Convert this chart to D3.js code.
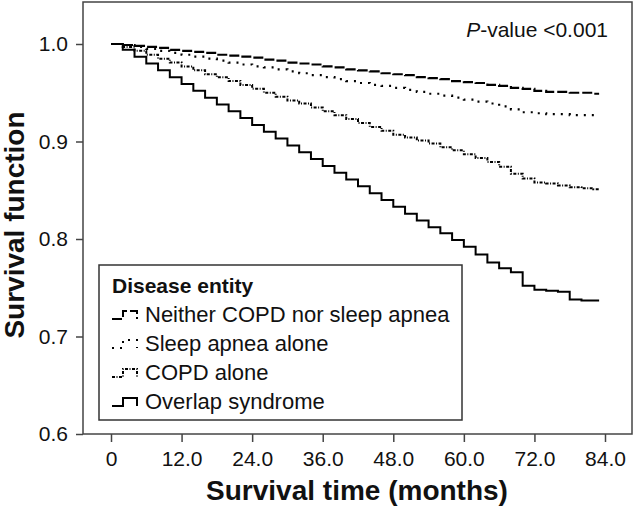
<!DOCTYPE html>
<html><head><meta charset="utf-8">
<script src="https://cdn.jsdelivr.net/npm/d3@7"></script>
<style>
html,body{margin:0;padding:0;background:#fff;}
svg{display:block;font-family:"Liberation Sans",Arial,sans-serif;}
</style></head>
<body><svg id="chart" width="634" height="511"></svg>
<script>
const months = [0,2,4,6,8,10,12,14,16,18,20,22,24,26,28,30,32,34,36,38,40,42,44,46,48,50,52,54,56,58,60,62,64,66,68,70,72,74,76,78,80,82,83];
const neitherVals = [1.000,0.999,0.998,0.997,0.996,0.994,0.993,0.992,0.991,0.989,0.988,0.987,0.986,0.984,0.983,0.981,0.980,0.979,0.977,0.976,0.974,0.973,0.972,0.970,0.969,0.968,0.966,0.965,0.964,0.962,0.961,0.960,0.958,0.957,0.955,0.954,0.952,0.951,0.951,0.950,0.950,0.949,0.949];
const sleepVals = [1.000,0.999,0.997,0.995,0.993,0.991,0.989,0.987,0.985,0.983,0.981,0.979,0.977,0.976,0.974,0.972,0.970,0.968,0.966,0.964,0.962,0.960,0.958,0.957,0.955,0.953,0.951,0.949,0.947,0.945,0.943,0.941,0.939,0.936,0.933,0.930,0.929,0.928,0.928,0.927,0.927,0.927,0.927];
const copdVals = [1.000,0.997,0.993,0.989,0.985,0.981,0.977,0.973,0.969,0.966,0.962,0.958,0.954,0.950,0.946,0.942,0.939,0.935,0.931,0.927,0.923,0.919,0.915,0.911,0.907,0.904,0.901,0.898,0.894,0.891,0.887,0.883,0.879,0.874,0.867,0.862,0.858,0.857,0.855,0.853,0.852,0.851,0.851];
const overlapVals = [1.000,0.994,0.987,0.980,0.973,0.966,0.959,0.952,0.945,0.938,0.931,0.924,0.917,0.910,0.903,0.896,0.889,0.882,0.875,0.868,0.861,0.854,0.847,0.840,0.833,0.826,0.819,0.812,0.806,0.799,0.792,0.784,0.776,0.770,0.766,0.752,0.748,0.747,0.746,0.738,0.737,0.737,0.737];
const seriesNames = ["Neither COPD nor sleep apnea","Sleep apnea alone","COPD alone","Overlap syndrome"];
const xTicks = [0,12,24,36,48,60,72,84];
const yTicks = [0.6,0.7,0.8,0.9,1.0];

const dashes = ["10,3","2,6","3,1.5,1,1.5",null];
const widths = [2.2,2.2,2,2];
const allVals = [neitherVals, sleepVals, copdVals, overlapVals];

const svg = d3.select("#chart");
const frame = {left:83, right:632, top:2, bottom:434};
const x = d3.scaleLinear().domain([0,84]).range([111,605]);
const y = d3.scaleLinear().domain([0.6,1.0]).range([434,44]);

// frame
svg.append("rect").attr("x",frame.left).attr("y",frame.top)
  .attr("width",frame.right-frame.left).attr("height",frame.bottom-frame.top)
  .attr("fill","none").attr("stroke","#444").attr("stroke-width",1.5);

// x axis
const xAxis = d3.axisBottom(x).tickValues(xTicks).tickSize(8).tickPadding(9)
  .tickFormat(d => d===0 ? "0" : d3.format(".1f")(d));
const gx = svg.append("g").attr("transform",`translate(0,${frame.bottom})`).call(xAxis);
gx.select(".domain").remove();
gx.selectAll("line").attr("stroke","#444").attr("stroke-width",1.5);
gx.selectAll("text").attr("font-size",21).attr("fill","#111").attr("font-family","Liberation Sans, Arial, sans-serif");

// y axis
const yAxis = d3.axisLeft(y).tickValues(yTicks).tickSize(7).tickPadding(8).tickFormat(d3.format(".1f"));
const gy = svg.append("g").attr("transform",`translate(${frame.left},0)`).call(yAxis);
gy.select(".domain").remove();
gy.selectAll("line").attr("stroke","#444").attr("stroke-width",1.5);
gy.selectAll("text").attr("font-size",21).attr("fill","#111").attr("font-family","Liberation Sans, Arial, sans-serif");

// titles
svg.append("text").attr("x",357).attr("y",500).attr("text-anchor","middle")
  .attr("font-size",28).attr("font-weight","bold").attr("fill","#111").text("Survival time (months)");
svg.append("text").attr("transform","translate(24,225) rotate(-90)").attr("text-anchor","middle")
  .attr("font-size",28).attr("font-weight","bold").attr("fill","#111").text("Survival function");

// p-value
const pt = svg.append("text").attr("x",608).attr("y",37).attr("text-anchor","end")
  .attr("font-size",21).attr("fill","#111");
pt.append("tspan").attr("font-style","italic").text("P");
pt.append("tspan").text("-value <0.001");

// curves
const line = d3.line().x((d,i)=>x(months[i])).y(d=>y(d)).curve(d3.curveStepAfter);
allVals.forEach((vals,k)=>{
  const p = svg.append("path").datum(vals).attr("d",line)
    .attr("fill","none").attr("stroke","#000").attr("stroke-width",widths[k]);
  if(dashes[k]) p.attr("stroke-dasharray",dashes[k]);
});

// legend
const leg = svg.append("g");
leg.append("rect").attr("x",99).attr("y",265).attr("width",363).attr("height",155)
  .attr("fill","#fff").attr("stroke","#333").attr("stroke-width",1.5);
leg.append("text").attr("x",112).attr("y",293).attr("font-size",21).attr("font-weight","bold")
  .attr("fill","#111").text("Disease entity");
seriesNames.forEach((name,k)=>{
  const by = 322 + k*29;
  const sym = leg.append("path")
    .attr("d",`M112,${by-3}H123V${by-11}H137V${by-3}`)
    .attr("fill","none").attr("stroke","#000").attr("stroke-width",2);
  if(dashes[k]) sym.attr("stroke-dasharray",dashes[k]);
  leg.append("text").attr("x",145).attr("y",by).attr("font-size",22).attr("fill","#111").text(name);
});
</script></body></html>
